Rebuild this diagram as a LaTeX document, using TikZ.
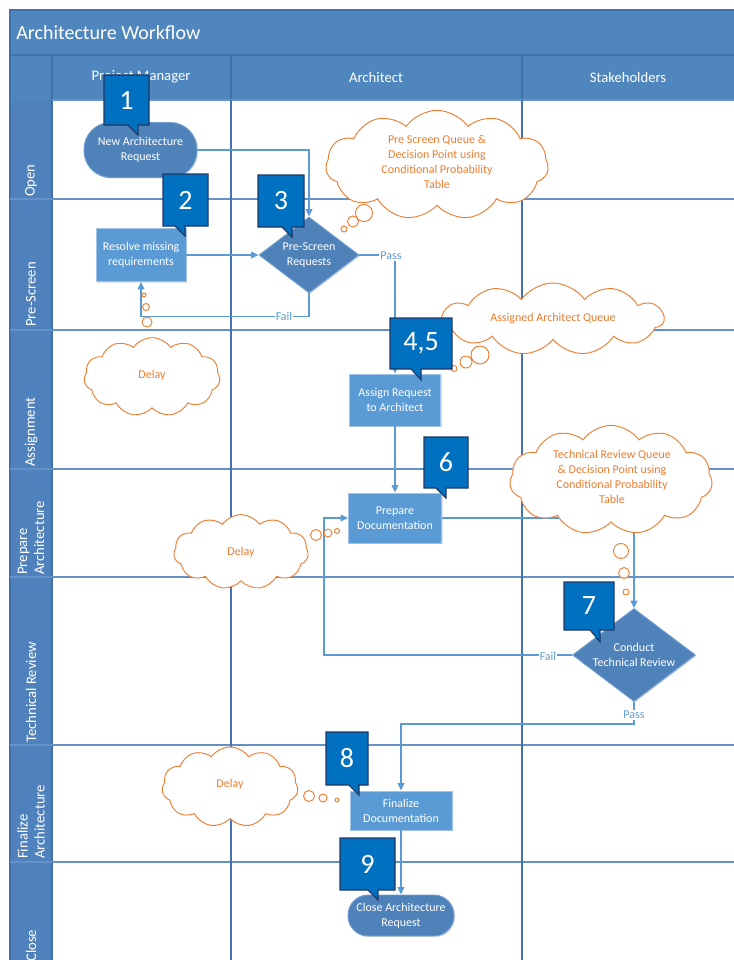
\documentclass[tikz,border=0pt]{standalone}
\usepackage{fontspec}
\setmainfont{Carlito}
\usetikzlibrary{arrows.meta,shapes.geometric,shapes.symbols,shadows}

\definecolor{barblue}{RGB}{79,134,190}
\definecolor{lanefill}{RGB}{79,129,189}
\definecolor{frameedge}{RGB}{65,113,170}
\definecolor{sepblue}{RGB}{100,145,198}
\definecolor{colblue}{RGB}{68,114,176}
\definecolor{procfill}{RGB}{91,155,213}
\definecolor{procedge}{RGB}{160,197,232}
\definecolor{termfill}{RGB}{80,130,186}
\definecolor{termedge}{RGB}{112,160,210}
\definecolor{tagfill}{RGB}{0,112,192}
\definecolor{tagedge}{RGB}{31,56,100}
\definecolor{noteorange}{RGB}{237,125,49}
\definecolor{linkblue}{RGB}{91,155,213}

\tikzset{
  shapetext/.style={text=white, font=\fontsize{9}{11.25}\selectfont, align=center},
  softshadow/.style={drop shadow={shadow xshift=0.9pt, shadow yshift=-0.9pt, opacity=0.25}},
  procbox/.style={rectangle, fill=procfill, draw=procedge, line width=0.7pt, inner sep=0pt, shapetext, softshadow},
  terminal/.style={rectangle, rounded corners=20pt, fill=termfill, draw=termedge, line width=0.7pt, inner sep=0pt, shapetext, softshadow},
  decision/.style={diamond, fill=termfill, draw=termedge, line width=0.7pt, inner sep=0pt, softshadow},
  link/.style={draw=linkblue, line width=0.95pt, -{Triangle[length=5.5pt,width=5pt]}},
  linklabel/.style={text=linkblue, fill=white, inner sep=0.8pt, font=\fontsize{9}{11}\selectfont},
  thought/.style={cloud, cloud puffs=11, cloud puff arc=110, cloud ignores aspect, draw=noteorange, fill=white, line width=0.7pt, inner sep=0pt},
  notetext/.style={text=noteorange, align=center, font=\fontsize{9}{11.25}\selectfont},
  bubble/.style={draw=noteorange, fill=white, line width=0.7pt},
  tagnum/.style={text=white, font=\fontsize{21}{24}\selectfont, inner sep=0pt},
  lanetext/.style={text=white, rotate=90, anchor=west, align=left, inner sep=0pt, font=\fontsize{11}{12.75}\selectfont},
  headtext/.style={text=white, font=\fontsize{11}{13}\selectfont},
  sepline/.style={draw=sepblue, line width=1.2pt},
  colline/.style={draw=colblue, line width=0.9pt},
}

% numbered callout: name, x1, y1, x2, y2, tip x, tip y, text
\newcommand{\numtag}[8]{%
  \filldraw[fill=tagfill, draw=tagedge, line width=0.8pt, line join=miter]
    (#2,#3) -- (#4,#3) -- (#4,#5) -- (#6,#5) -- (#6,#7) -- ({#6-10},#5) -- (#2,#5) -- cycle;
  \node[tagnum] (#1) at ({(#2+#4)/2},{(#3+#5)/2}) {#8};
}

\begin{document}
\begin{tikzpicture}[x=0.75pt,y=-0.75pt]
\useasboundingbox (0,0) rectangle (734,960);
\clip (0,0) rectangle (734,960);

% pool frame, title bar and header row
\fill[barblue] (10,10) rectangle (734,100);
\fill[lanefill] (10,100) rectangle (52,960);
\draw[frameedge, line width=0.8pt] (10,960) -- (10,10) -- (734,10);
\draw[frameedge, line width=0.8pt] (10,55) -- (734,55);
\foreach \x in {52,231,522} \draw[frameedge, line width=0.8pt] (\x,55) -- (\x,100);
\draw[frameedge, line width=0.8pt] (52,100) -- (52,960);

% lane separators and column lines
\draw[sepline] (52,100) -- (734,100);
\foreach \y in {199,330,469,577,745,862} \draw[sepline] (10,\y) -- (734,\y);
\foreach \x in {231,522} \draw[colline] (\x,100) -- (\x,960);

\node[text=white, anchor=west, inner sep=0pt, font=\fontsize{15}{18}\selectfont] (title) at (16,33) {Architecture Workflow};
\node[headtext] (hpm) at (141,77) {Project Manager};
\node[headtext] (harch) at (376,77) {Architect};
\node[headtext] (hstake) at (628,77) {Stakeholders};

% lane names
\node[lanetext] (lopen) at (31,197) {Open};
\node[lanetext] (lscreen) at (31,327) {Pre-Screen};
\node[lanetext] (lassign) at (31,467) {Assignment};
\node[lanetext] (lprep) at (31,575) {Prepare\\Architecture};
\node[lanetext] (ltech) at (31,743) {Technical Review};
\node[lanetext] (lfinal) at (31,859) {Finalize\\Architecture};
\node[lanetext] (lclose) at (31,962) {Close};

% process shapes
\node[terminal, minimum width=84.75pt, minimum height=41.25pt] (nar) at (140.5,150) {New Architecture\\Request};
\node[procbox, minimum width=67.5pt, minimum height=39.75pt] (res) at (141,255) {Resolve missing\\requirements};
\node[decision, minimum width=75pt, minimum height=57pt,
      label={[shapetext]center:{Pre-Screen\\Requests}}] (ps) at (309,255) {};
\node[procbox, minimum width=68.25pt, minimum height=39pt] (asg) at (395,400) {Assign Request\\to Architect};
\node[procbox, minimum width=69.75pt, minimum height=37.5pt] (prep) at (395,518) {Prepare\\Documentation};
\node[decision, minimum width=92.25pt, minimum height=69.75pt,
      label={[shapetext]center:{Conduct\\Technical Review}}] (tr) at (634,655) {};
\node[procbox, minimum width=76.5pt, minimum height=29.25pt] (fin) at (401,810.5) {Finalize\\Documentation};
\node[terminal, rounded corners=15pt, minimum width=79.5pt, minimum height=30.75pt] (cls) at (401,915.5) {Close Architecture\\Request};

% connectors
\draw[link] (nar.east) -| (ps.north);
\draw[link] (res.east) -- (ps.west);
\draw[link] (ps.south) -- ++(0,23) -| (res.south);
\draw[link] (ps.east) -| (asg.north);
\draw[link] (asg.south) -- (prep.north);
\draw[link] (prep.east) -| (tr.north);
\draw[link] (tr.west) -- ++(-248,0) |- (prep.west);
\draw[link] (tr.south) -- ++(0,22) -| (fin.north);
\draw[link] (fin.south) -- (cls.north);

\node[linklabel] (fail1) at (284,316) {Fail};
\node[linklabel] (pass1) at (391,256) {Pass};
\node[linklabel] (fail2) at (548,656) {Fail};
\node[linklabel] (pass2) at (634,715) {Pass};

% thought clouds
\node[thought, minimum width=167pt, minimum height=82pt] (q1) at (437,165) {};
\node[notetext] (q1t) at (437,161.5) {Pre Screen Queue \&\\Decision Point using\\Conditional Probability\\Table};
\draw[bubble] (364,213) circle[radius=8.5];
\draw[bubble] (353,221.5) circle[radius=5.5];
\draw[bubble] (344,229) circle[radius=3];

\node[thought, minimum width=166pt, minimum height=54pt] (q2) at (553,319) {};
\node[notetext] (q2t) at (553,318) {Assigned Architect Queue};
\draw[bubble] (480,355) circle[radius=9];
\draw[bubble] (466,362) circle[radius=6];
\draw[bubble] (454,368.5) circle[radius=3];

\node[thought, minimum width=102pt, minimum height=59pt] (d1) at (152,377) {};
\node[notetext] (d1t) at (152,375) {Delay};
\draw[bubble] (147,322) circle[radius=5];
\draw[bubble] (146,307) circle[radius=3.5];
\draw[bubble] (144,295) circle[radius=2];

\node[thought, minimum width=101pt, minimum height=56pt] (d2) at (241,552) {};
\node[notetext] (d2t) at (241,552) {Delay};
\draw[bubble] (316,535) circle[radius=5.5];
\draw[bubble] (328,533) circle[radius=4];
\draw[bubble] (337,531) circle[radius=2.5];

\node[thought, minimum width=152pt, minimum height=82pt] (q3) at (611,480) {};
\node[notetext] (q3t) at (612,476.5) {Technical Review Queue\\\& Decision Point using\\Conditional Probability\\Table};
\draw[bubble] (621,551) circle[radius=7.5];
\draw[bubble] (624,573) circle[radius=5.5];
\draw[bubble] (626,592) circle[radius=3];

\node[thought, minimum width=102pt, minimum height=60pt] (d3) at (230,787) {};
\node[notetext] (d3t) at (230,784) {Delay};
\draw[bubble] (309,796) circle[radius=5.5];
\draw[bubble] (323,798) circle[radius=4];
\draw[bubble] (337,800) circle[radius=2];

% step numbers
\numtag{t1}{104}{75}{149}{125}{138}{135}{1}
\numtag{t2}{163}{174}{208}{226}{185}{236}{2}
\numtag{t3}{258}{175}{304}{227}{292}{237}{3}
\numtag{t45}{390}{318}{452}{369}{421}{380}{4,5}
\numtag{t6}{424}{437}{468}{488}{446}{498}{6}
\numtag{t7}{564}{582}{614}{630}{600}{642}{7}
\numtag{t8}{326}{732}{368}{785}{359}{795}{8}
\numtag{t9}{340}{838}{395}{890}{378}{900}{9}
\end{tikzpicture}
\end{document}
